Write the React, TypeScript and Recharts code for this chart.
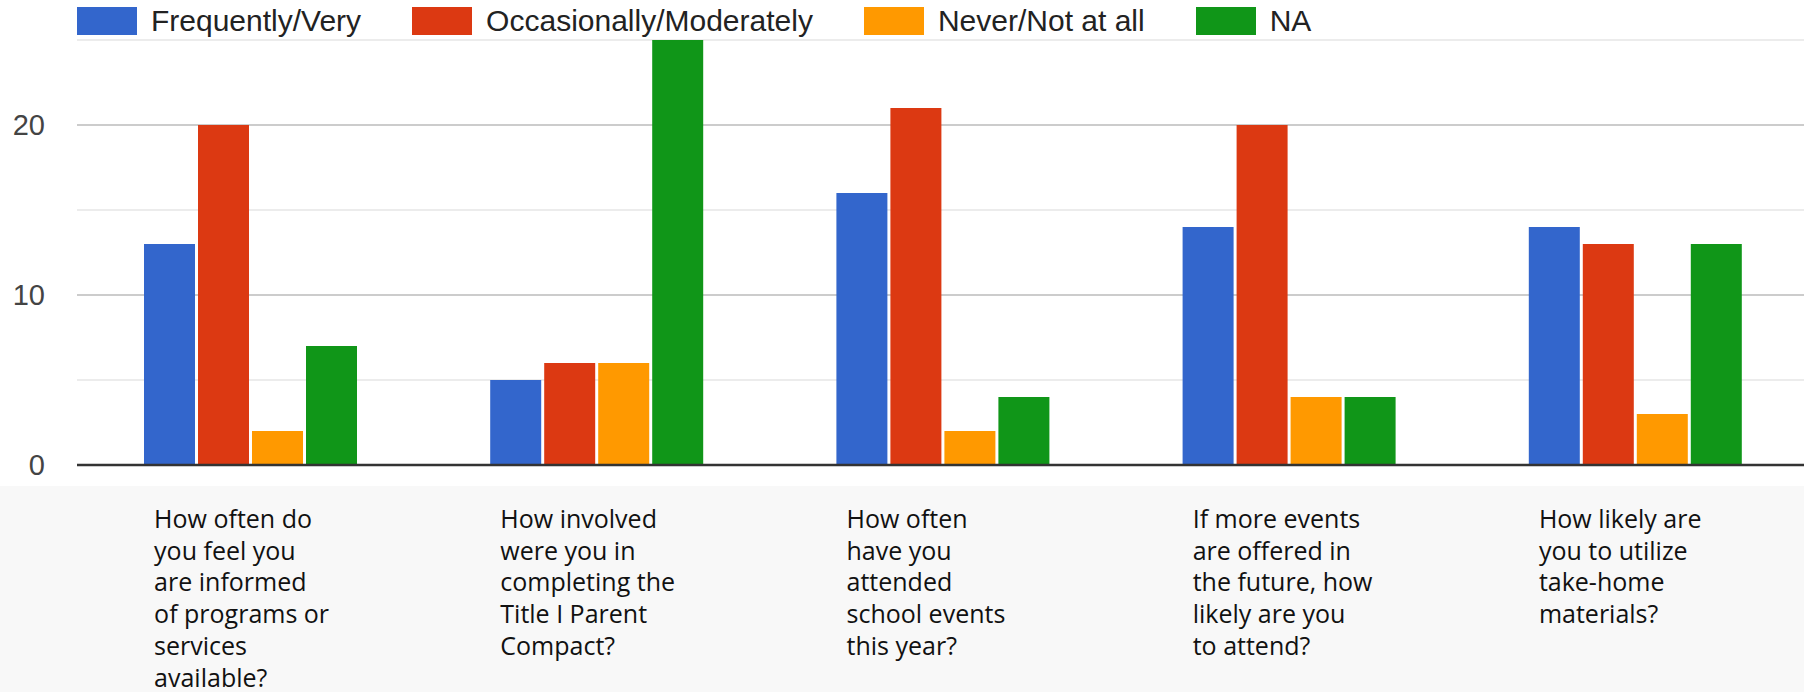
import { BarChart, Bar, XAxis, YAxis, CartesianGrid } from "recharts";

// question text, already broken into the lines shown under each group
const categories = [
  ["How often do", "you feel you", "are informed", "of programs or", "services", "available?"],
  ["How involved", "were you in", "completing the", "Title I Parent", "Compact?"],
  ["How often", "have you", "attended", "school events", "this year?"],
  ["If more events", "are offered in", "the future, how", "likely are you", "to attend?"],
  ["How likely are", "you to utilize", "take-home", "materials?"],
];

const frequently = [13, 5, 16, 14, 14];
const occasionally = [20, 6, 21, 20, 13];
const never = [2, 6, 2, 4, 3];
const na = [7, 25, 4, 4, 13];

const yTicks = [0, 10, 20];
const majorGrid = [10, 20];
const minorGrid = [5, 15, 25];

const series = [
  { key: "frequently", name: "Frequently/Very", color: "#3366cc" },
  { key: "occasionally", name: "Occasionally/Moderately", color: "#dc3912" },
  { key: "never", name: "Never/Not at all", color: "#ff9900" },
  { key: "na", name: "NA", color: "#109618" },
];

const data = categories.map((lines, i) => ({
  name: lines.join(" "),
  frequently: frequently[i],
  occasionally: occasionally[i],
  never: never[i],
  na: na[i],
}));

const labelFont = "'Open Sans', 'Noto Sans', sans-serif";
const chartFont = "'Liberation Sans', Arial, sans-serif";

const CategoryTick = (props: any) => {
  const { x, y, index } = props;
  const lines = categories[index] || [];
  return (
    <text x={x - 96} y={y + 63} fill="#111111" fontFamily={labelFont} fontSize={25} textAnchor="start">
      {lines.map((line, i) => (
        <tspan key={i} x={x - 96} dy={i === 0 ? 0 : 31.7}>
          {line}
        </tspan>
      ))}
    </text>
  );
};

export default function App() {
  return (
    <div
      style={{
        position: "absolute",
        left: 0,
        top: 0,
        width: 1804,
        height: 692,
        overflow: "hidden",
        background: "#ffffff",
      }}
    >
      {/* light band behind the question labels */}
      <div
        style={{
          position: "absolute",
          left: 0,
          top: 486,
          width: 1804,
          height: 206,
          background: "#f8f8f8",
        }}
      />

      <div
        style={{
          position: "absolute",
          left: 77,
          top: 7,
          height: 28,
          display: "flex",
          alignItems: "center",
          fontFamily: chartFont,
          fontSize: 30,
          color: "#222",
          whiteSpace: "nowrap",
        }}
      >
        {series.map((s) => (
          <div key={s.key} style={{ display: "flex", alignItems: "center", marginRight: 51 }}>
            <div style={{ width: 60, height: 28, background: s.color, marginRight: 14 }} />
            <span>{s.name}</span>
          </div>
        ))}
      </div>

      <div style={{ position: "absolute", left: 0, top: 0 }}>
        <BarChart
          width={1808}
          height={692}
          data={data}
          margin={{ top: 40, right: 0, bottom: 0, left: 0 }}
          barSize={51}
          barGap={3}
        >
          <CartesianGrid vertical={false} horizontalValues={minorGrid} stroke="#e6e6e6" strokeWidth={1.5} />
          <CartesianGrid vertical={false} horizontalValues={majorGrid} stroke="#cccccc" strokeWidth={2} />
          <XAxis
            dataKey="name"
            interval={0}
            height={227}
            tickLine={false}
            tickSize={0}
            tickMargin={0}
            axisLine={{ stroke: "#333333", strokeWidth: 2.5 }}
            tick={<CategoryTick />}
          />
          <YAxis
            width={77}
            domain={[0, 25]}
            ticks={yTicks}
            allowDataOverflow
            axisLine={false}
            tickLine={false}
            tickSize={0}
            tickMargin={32}
            tick={{ fill: "#444444", fontSize: 29, fontFamily: chartFont }}
          />
          {series.map((s) => (
            <Bar key={s.key} dataKey={s.key} name={s.name} fill={s.color} isAnimationActive={false} />
          ))}
        </BarChart>
      </div>
    </div>
  );
}
